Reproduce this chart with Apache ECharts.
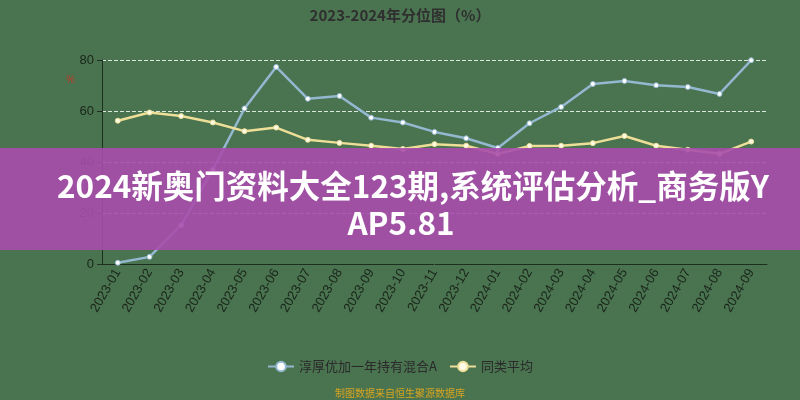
<!DOCTYPE html>
<html lang="zh">

<head>
    <meta charset="UTF-8">
    <title>分位图</title>
    <script type="text/javascript" src="https://cdn.jsdelivr.net/npm/echarts@6/dist/echarts.min.js"></script>
    <style>
        html, body { margin: 0; padding: 0; background: #4a7350; }
    </style>
</head>

<body>
    <div id="main" style="width:800px;height:400px;"></div>
</body>
<script type="text/javascript">

    // 月份
    var months = ['2023-01', '2023-02', '2023-03', '2023-04', '2023-05', '2023-06', '2023-07',
        '2023-08', '2023-09', '2023-10', '2023-11', '2023-12', '2024-01', '2024-02',
        '2024-03', '2024-04', '2024-05', '2024-06', '2024-07', '2024-08', '2024-09'];
    // 淳厚优加一年持有混合A
    var fundValues = [0.5, 2.8, 15.2, 37, 61, 77.3, 64.8, 65.9, 57.4, 55.5, 51.8, 49.3, 45.5,
        55.2, 61.6, 70.6, 71.8, 70.1, 69.4, 66.7, 79.9];
    // 同类平均
    var avgValues = [56.2, 59.4, 58, 55.5, 52.1, 53.5, 48.7, 47.5, 46.4, 45.1, 47, 46.4, 43.2,
        46.3, 46.4, 47.4, 50.2, 46.4, 44.8, 43.2, 48];
    var yTicks = [0, 20, 40, 60, 80];

    var chart = echarts.init(document.getElementById('main'));

    chart.setOption({
        backgroundColor: '#4a7350',
        animation: false,
        title: {
            text: '2023-2024年分位图（%）',
            left: 'center',
            top: 3,
            textStyle: {
                color: '#2f2f2f',
                fontSize: 15,
                fontWeight: 'bold',
                fontFamily: 'Noto Sans CJK SC'
            }
        },
        grid: {
            left: 102,
            right: 33,
            top: 60,
            bottom: 136
        },
        legend: {
            bottom: 22,
            left: 'center',
            itemWidth: 26,
            itemHeight: 12,
            itemGap: 12,
            textStyle: { color: '#2a2a2a', fontSize: 13, fontFamily: 'Noto Sans CJK SC' },
            data: ['淳厚优加一年持有混合A', '同类平均']
        },
        xAxis: {
            type: 'category',
            data: months,
            boundaryGap: true,
            axisLine: { lineStyle: { color: '#1f2f1f' } },
            axisTick: { lineStyle: { color: '#1f2f1f' } },
            axisLabel: {
                rotate: 60,
                color: '#1a261a',
                fontSize: 13,
                interval: 0,
                margin: 6
            }
        },
        yAxis: {
            type: 'value',
            min: yTicks[0],
            max: yTicks[yTicks.length - 1],
            interval: 20,
            axisLine: { show: true, lineStyle: { color: '#1f2f1f' } },
            axisTick: { show: true, lineStyle: { color: '#1f2f1f' } },
            axisLabel: { color: '#1a261a', fontSize: 13 },
            splitLine: { lineStyle: { color: '#dde6dd', type: 'dashed' } }
        },
        series: [{
            name: '淳厚优加一年持有混合A',
            type: 'line',
            data: fundValues,
            symbol: 'circle',
            symbolSize: 5,
            color: '#93b8d0',
            itemStyle: { color: '#ffffff', borderColor: '#93b8d0', borderWidth: 1 },
            lineStyle: { color: '#93b8d0', width: 2.5 }
        }, {
            name: '同类平均',
            type: 'line',
            data: avgValues,
            symbol: 'circle',
            symbolSize: 5,
            color: '#eddf97',
            itemStyle: { color: '#fffbe6', borderColor: '#eddf97', borderWidth: 1 },
            lineStyle: { color: '#eddf97', width: 2.5 }
        }],
        graphic: [{
            type: 'text',
            left: 66,
            top: 75,
            style: { text: '%', fill: '#c0392b', fontSize: 10, fontStyle: 'italic' }
        }, {
            type: 'text',
            left: 'center',
            bottom: 2,
            style: {
                text: '制图数据来自恒生聚源数据库',
                fill: '#d9a520',
                fontSize: 10,
                fontFamily: 'Noto Sans CJK SC'
            }
        }, {
            type: 'rect',
            z: 100,
            shape: { x: 0, y: 148, width: 800, height: 102 },
            style: { fill: 'rgba(168, 76, 172, 0.9)' }
        }, {
            type: 'text',
            z: 101,
            style: {
                x: 413,
                y: 186,
                text: '2024新奥门资料大全123期,系统评估分析_商务版Y',
                fill: '#ffffff',
                fontSize: 31.5,
                fontWeight: 'bold',
                textAlign: 'center',
                textVerticalAlign: 'middle',
                fontFamily: 'Noto Sans CJK SC'
            }
        }, {
            type: 'text',
            z: 101,
            style: {
                x: 401,
                y: 223,
                text: 'AP5.81',
                fill: '#ffffff',
                fontSize: 31.5,
                fontWeight: 'bold',
                textAlign: 'center',
                textVerticalAlign: 'middle',
                fontFamily: 'Noto Sans CJK SC'
            }
        }]
    });
</script>

</html>
